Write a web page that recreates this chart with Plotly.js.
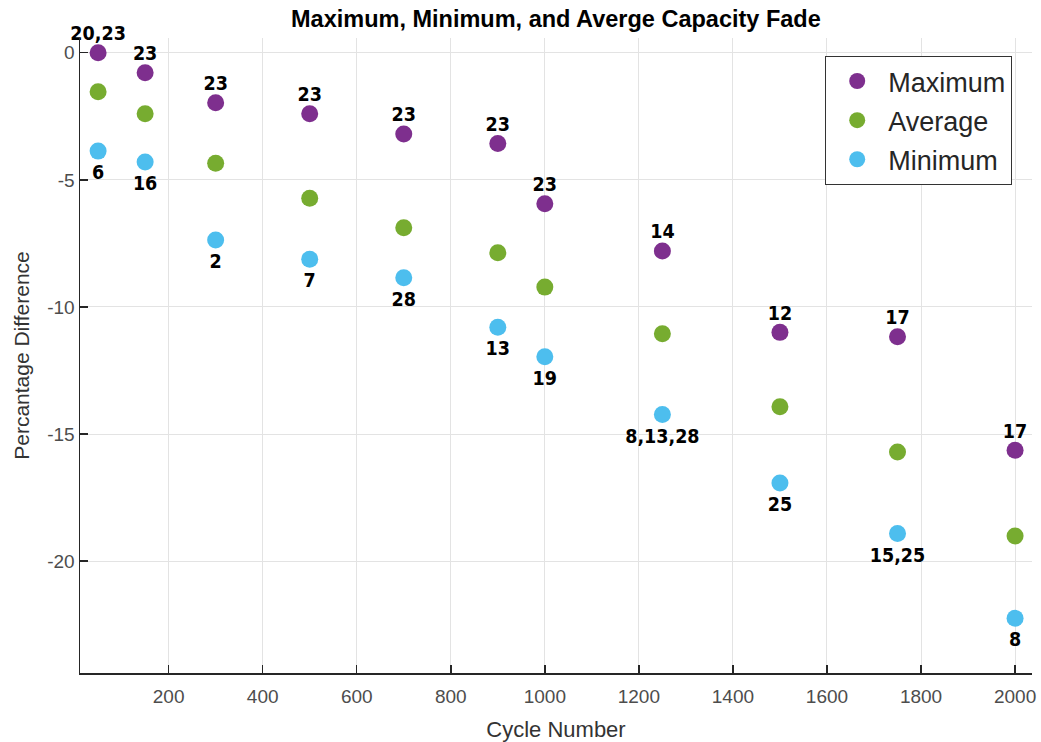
<!DOCTYPE html>
<html>
<head>
<meta charset="utf-8">
<script src="https://cdn.plot.ly/plotly-3.0.1.min.js"></script>
<style>
  html, body { margin: 0; padding: 0; background: #fff; }
  #chart { width: 1041px; height: 742px; }
</style>
</head>
<body>
<div id="chart"></div>
<script>
// Cycle numbers at which the capacity was measured
const cycles = [50, 150, 300, 500, 700, 900, 1000, 1250, 1500, 1750, 2000];

// Percentage difference in capacity (fade) per cycle
const maximumFade = [0, -0.79, -1.97, -2.40, -3.20, -3.57, -5.94, -7.80, -11.00, -11.17, -15.64];
const averageFade = [-1.53, -2.40, -4.35, -5.72, -6.88, -7.87, -9.22, -11.05, -13.93, -15.71, -19.01];
const minimumFade = [-3.87, -4.30, -7.37, -8.12, -8.85, -10.80, -11.96, -14.23, -16.93, -18.91, -22.25];

// Cell numbers that produced the maximum / minimum at each cycle
const maximumCells = ['20,23', '23', '23', '23', '23', '23', '23', '14', '12', '17', '17'];
const minimumCells = ['6', '16', '2', '7', '28', '13', '19', '8,13,28', '25', '15,25', '8'];

// Axis ticks
const xTicks = [200, 400, 600, 800, 1000, 1200, 1400, 1600, 1800, 2000];
const yTicks = [0, -5, -10, -15, -20];
const yTickText = ['0', '-5', '-10', '-15', '-20'];

const colMax = '#7E2F8E';
const colAvg = '#77AC30';
const colMin = '#4DBEEE';
const markerSize = 17;
const labelFont = { family: 'DejaVu Sans Condensed, Liberation Sans Narrow, Arial Narrow, sans-serif', size: 19.5, color: '#000000', weight: 'bold' };

const traces = [
  { x: cycles, y: maximumFade, type: 'scatter', mode: 'markers', name: 'Maximum', legendgroup: 'a',
    marker: { color: colMax, size: markerSize, symbol: 'circle' }, cliponaxis: false },
  { x: cycles, y: averageFade, type: 'scatter', mode: 'markers', name: 'Average', legendgroup: 'b',
    marker: { color: colAvg, size: markerSize, symbol: 'circle' }, cliponaxis: false },
  { x: cycles, y: minimumFade, type: 'scatter', mode: 'markers', name: 'Minimum', legendgroup: 'c',
    marker: { color: colMin, size: markerSize, symbol: 'circle' }, cliponaxis: false },
  // cell-number labels
  { x: cycles, y: maximumFade, type: 'scatter', mode: 'markers+text', text: maximumCells,
    textposition: 'top center', textfont: labelFont, showlegend: false, hoverinfo: 'skip',
    marker: { size: markerSize - 6, opacity: 0 }, cliponaxis: false },
  { x: cycles, y: minimumFade, type: 'scatter', mode: 'markers+text', text: minimumCells,
    textposition: 'bottom center', textfont: labelFont, showlegend: false, hoverinfo: 'skip',
    marker: { size: markerSize + 3, opacity: 0 }, cliponaxis: false }
];

const axisCommon = {
  showline: true, linecolor: '#262626', linewidth: 1.5, mirror: false,
  ticks: 'inside', ticklen: 8, tickwidth: 1.5, tickcolor: '#262626',
  showgrid: true, gridcolor: '#e3e3e3', gridwidth: 1, zeroline: false,
  tickfont: { family: 'Liberation Sans, Arial, sans-serif', size: 19, color: '#4d4d4d' }
};

const layout = {
  width: 1041, height: 742,
  paper_bgcolor: '#ffffff', plot_bgcolor: '#ffffff',
  margin: { l: 80, r: 9, t: 38, b: 69 },
  title: {
    text: '<b>Maximum, Minimum, and Averge Capacity Fade</b>',
    font: { family: 'Liberation Sans, Arial, sans-serif', size: 23.5, color: '#000000' },
    x: 0.534, xanchor: 'center', y: 0.975, yanchor: 'middle'
  },
  xaxis: Object.assign({}, axisCommon, {
    range: [11.5, 2036], tickvals: xTicks, ticklabelstandoff: 6,
    title: { text: 'Cycle Number', standoff: 16,
      font: { family: 'Liberation Sans, Arial, sans-serif', size: 22, color: '#333333' } }
  }),
  yaxis: Object.assign({}, axisCommon, {
    range: [-24.4, 0.58], tickvals: yTicks, ticktext: yTickText,
    title: { text: 'Percantage Difference', standoff: 12,
      font: { family: 'Liberation Sans, Arial, sans-serif', size: 21, color: '#333333' } }
  }),
  showlegend: true,
  legend: {
    x: 0.979, xanchor: 'right', y: 0.972, yanchor: 'top',
    bgcolor: '#ffffff', bordercolor: '#333333', borderwidth: 1.2,
    font: { family: 'Liberation Sans, Arial, sans-serif', size: 27, color: '#262626' },
    tracegroupgap: 1, itemwidth: 52
  }
};

Plotly.newPlot('chart', traces, layout, { displayModeBar: false, staticPlot: true });
</script>
</body>
</html>
